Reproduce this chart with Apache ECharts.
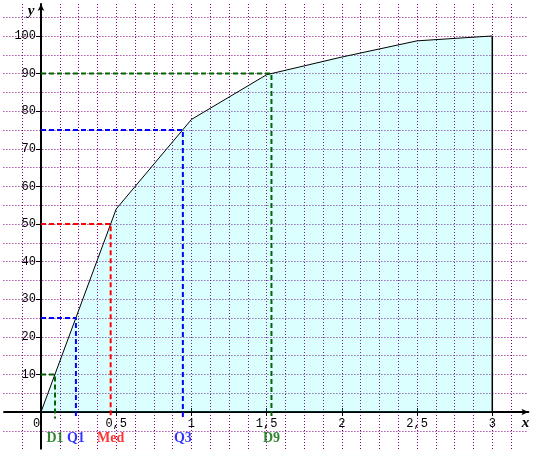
<!DOCTYPE html>
<html>
<head>
<meta charset="utf-8">
<script src="https://cdn.jsdelivr.net/npm/echarts@6/dist/echarts.min.js"></script>
<style>
  html, body { margin: 0; padding: 0; background: #fff; }
  #chart { width: 535px; height: 453px; }
</style>
</head>
<body>
<div id="chart"></div>
<script>
// polygone des fréquences cumulées croissantes (en %)
const classBounds = [0, 0.5, 1, 1.5, 2, 2.5, 3]
const cumFreq = [0, 54, 77.8, 89.7, 94.4, 98.7, 100]

// quantiles
const quantNames = ['D1', 'Q1', 'Med', 'Q3', 'D9']
const quantLevels = [10, 25, 50, 75, 90]
const quantValues = [0.093, 0.232, 0.463, 0.943, 1.532]
const quantColors = ['#006600', '#0000ff', '#ff0000', '#0000ff', '#006600']

const xTickValues = [0, 0.5, 1, 1.5, 2, 2.5, 3]
const xTickLabels = ['0', '0,5', '1', '1,5', '2', '2,5', '3']
const yTickValues = [10, 20, 30, 40, 50, 60, 70, 80, 90, 100]

const X_MIN = -0.25, X_MAX = 3.24, Y_MIN = -10, Y_MAX = 108.5
const LABEL_ROW = -7.1   // hauteur des étiquettes D1, Q1...
const DROP = -1.7        // les pointillés descendent un peu sous l'axe

const chart = echarts.init(document.getElementById('chart'))

const monoFont = { fontFamily: 'Liberation Mono', fontSize: 12, color: '#000' }
const gridLine = { show: true, lineStyle: { color: '#800080', type: [1, 2], width: 1 } }
const axisStyle = { color: '#000', width: 2 }
const hidden = { axisLine: { show: false }, axisTick: { show: false }, axisLabel: { show: false } }

const quantSeries = quantNames.map((name, i) => ({
  type: 'line',
  name: name,
  symbol: 'none',
  z: 4,
  lineStyle: { color: quantColors[i], width: 2, type: [5, 3] },
  data: [[0, quantLevels[i]], [quantValues[i], quantLevels[i]], [quantValues[i], DROP]]
}))

const option = {
  animation: false,
  grid: [
    // grand quadrillage, toutes les séries
    { left: 3.4, top: 4, width: 525, height: 445.6, outerBoundsMode: 'none' },
    // repère (axes, graduations) dont l'origine est le coin bas gauche
    { left: 41, top: 4, right: 6.6, bottom: 41, outerBoundsMode: 'none' }
  ],
  xAxis: [
    {
      type: 'value', gridIndex: 0,
      min: X_MIN, max: X_MAX, interval: 0.125,
      ...hidden,
      splitLine: { ...gridLine, showMinLine: false, showMaxLine: false }
    },
    {
      type: 'value', gridIndex: 1, position: 'bottom',
      min: 0, max: X_MAX,
      name: 'x',
      nameLocation: 'end',
      nameGap: -3,
      nameTextStyle: {
        fontFamily: 'Liberation Serif', fontStyle: 'italic', fontWeight: 'bold',
        fontSize: 15, color: '#000', align: 'center', verticalAlign: 'top', padding: [4, 0, 0, 0]
      },
      axisLine: { show: true, symbol: ['none', 'arrow'], symbolSize: [5, 7], lineStyle: axisStyle },
      axisTick: { show: true, customValues: xTickValues.slice(1), length: 4, lineStyle: { color: '#000' } },
      axisLabel: {
        show: true, customValues: xTickValues, margin: 6, showMinLabel: true,
        ...monoFont,
        formatter: v => {
          const i = xTickValues.indexOf(v)
          if (i < 0) return ''
          return v === 0 ? '{o|' + xTickLabels[i] + '}' : xTickLabels[i]
        },
        rich: { o: { ...monoFont, padding: [0, 9, 0, 0] } }
      },
      splitLine: { show: false }
    },
    {
      // graduations vers le haut
      type: 'value', gridIndex: 1, position: 'bottom',
      min: 0, max: X_MAX,
      axisLine: { show: false },
      axisTick: { show: true, inside: true, customValues: xTickValues.slice(1), length: 4, lineStyle: { color: '#000' } },
      axisLabel: { show: false },
      splitLine: { show: false }
    }
  ],
  yAxis: [
    {
      type: 'value', gridIndex: 0,
      min: Y_MIN, max: Y_MAX, interval: 5,
      ...hidden,
      splitLine: { ...gridLine, showMinLine: false, showMaxLine: false }
    },
    {
      type: 'value', gridIndex: 1, position: 'left',
      min: 0, max: Y_MAX,
      name: 'y',
      nameLocation: 'end',
      nameGap: -15,
      nameTextStyle: {
        fontFamily: 'Liberation Serif', fontStyle: 'italic', fontWeight: 'bold',
        fontSize: 15, color: '#000', padding: [0, 20, 0, 0]
      },
      axisLine: { show: true, symbol: ['none', 'arrow'], symbolSize: [5, 7], lineStyle: axisStyle },
      axisTick: { show: true, customValues: yTickValues, length: 5, lineStyle: { color: '#000' } },
      axisLabel: { show: true, customValues: yTickValues, margin: 5, ...monoFont },
      splitLine: { show: false }
    }
  ],
  series: [
    {
      // prolongement des axes sous / à gauche de l'origine
      type: 'line', symbol: 'none', z: 1,
      lineStyle: axisStyle,
      data: [[X_MIN, 0], [0, 0], [0, Y_MIN]]
    },
    {
      type: 'line',
      symbol: 'none',
      z: 3,
      lineStyle: { color: '#000', width: 1 },
      areaStyle: { color: 'rgba(0,255,255,0.2)', origin: 0 },
      data: classBounds.map((x, i) => [x, cumFreq[i]])
    },
    {
      type: 'line',
      symbol: 'none',
      z: 3,
      lineStyle: { color: '#000', width: 1.5 },
      data: [[classBounds[classBounds.length - 1], 0], [classBounds[classBounds.length - 1], cumFreq[cumFreq.length - 1]]]
    },
    ...quantSeries,
    {
      type: 'scatter',
      symbolSize: 0,
      z: 5,
      label: {
        show: true, position: 'inside',
        fontFamily: 'Liberation Serif', fontWeight: 'bold', fontSize: 14,
        formatter: p => p.name
      },
      data: quantNames.map((name, i) => ({
        name: name,
        value: [quantValues[i], LABEL_ROW],
        label: { color: quantColors[i] }
      }))
    }
  ]
}

chart.setOption(option)
window.addEventListener('resize', () => chart.resize())
</script>
</body>
</html>
